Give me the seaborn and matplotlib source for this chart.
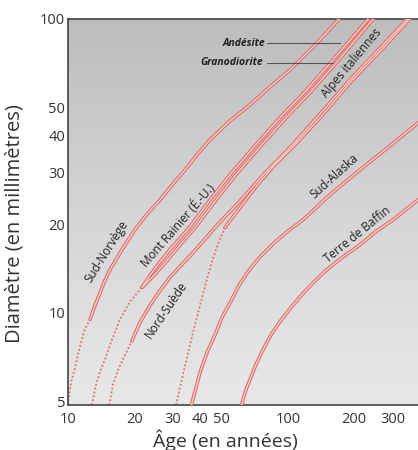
import numpy as np
import matplotlib
matplotlib.use("Agg")
import matplotlib.pyplot as plt
import matplotlib.ticker as mticker
import seaborn as sns

# courbes de croissance des lichens (echelle log-log)
sud_norvege_pts_x = [10.0, 10.2, 10.4, 10.8, 11.1, 11.46, 11.9, 12.6]
sud_norvege_pts_y = [4.85, 5.47, 5.92, 6.55, 7.2, 7.91, 8.75, 9.5]
sud_norvege_x = [12.6, 13.3, 14.0, 14.7, 15.5, 17.6, 20.2, 22.9, 26.2, 29.7,
                 34.0, 38.6, 44.2, 54.5, 67.1, 82.8, 102.0, 133.0, 169.0, 180.0]
sud_norvege_y = [9.5, 10.65, 11.7, 12.85, 14.0, 16.4, 19.2, 21.7, 24.2, 27.2,
                 30.6, 34.5, 38.8, 45.0, 51.0, 58.7, 67.1, 81.6, 99.2, 105.0]

rainier_pts_x = [12.85, 13.4, 14.0, 14.7, 15.85, 17.2, 19.1, 21.7]
rainier_pts_y = [4.85, 5.69, 6.3, 6.92, 8.1, 9.46, 10.9, 12.2]
rainier_andesite_x = [21.7, 23.6, 26.2, 29.1, 35.8, 44.2, 54.5, 70.8, 91.9,
                      119.4, 160.0, 240.0]
rainier_andesite_y = [12.2, 13.4, 14.9, 16.4, 19.6, 24.2, 29.5, 37.0, 46.1,
                      56.5, 72.5, 103.0]
rainier_granodiorite_x = [21.7, 24.6, 27.9, 31.0, 38.1, 47.1, 58.0, 75.4, 97.9,
                          127.0, 170.0, 252.0]
rainier_granodiorite_y = [12.2, 13.4, 14.9, 16.4, 19.6, 24.2, 29.5, 37.0, 46.1,
                          56.5, 72.5, 103.0]

nord_suede_pts_x = [15.4, 16.0, 16.9, 18.2, 19.5]
nord_suede_pts_y = [4.85, 5.69, 6.4, 7.19, 8.0]
nord_suede_x = [19.5, 21.2, 23.6, 26.2, 29.1, 33.0, 37.8, 46.6, 60.5, 78.6,
                105.0, 140.0, 191.0, 262.0, 358.0]
nord_suede_y = [8.0, 9.25, 10.6, 11.9, 13.2, 14.6, 16.3, 19.5, 24.0, 29.9,
                37.3, 47.5, 62.0, 79.6, 102.0]

alpes_pts_x = [31.0, 33.3, 35.9, 37.8, 39.8, 42.4, 45.1, 48.1, 51.7]
alpes_pts_y = [4.85, 6.15, 7.8, 9.1, 10.6, 12.65, 14.9, 17.2, 19.5]
alpes_x = [51.7, 60.5, 70.8, 85.5, 105.4, 141.0, 193.0, 266.0, 366.0]
alpes_y = [19.5, 22.8, 26.6, 31.4, 36.7, 46.4, 61.1, 78.5, 102.0]

sud_alaska_x = [36.4, 38.2, 39.8, 42.8, 46.6, 50.1, 54.5, 59.9, 65.8, 74.6,
                87.3, 102.0, 117.0, 155.0, 212.0, 291.0, 390.0]
sud_alaska_y = [4.85, 5.56, 6.25, 7.31, 8.4, 9.62, 10.8, 12.4, 13.8, 15.5,
                17.4, 19.2, 20.7, 25.2, 30.6, 37.0, 44.3]

baffin_x = [61.5, 64.4, 67.2, 71.5, 77.0, 83.7, 91.9, 102.0, 113.0, 130.0,
            150.0, 178.0, 212.0, 251.0, 300.0, 390.0]
baffin_y = [4.85, 5.47, 5.92, 6.65, 7.48, 8.41, 9.32, 10.3, 11.3, 12.65,
            14.0, 15.5, 17.0, 18.9, 20.7, 24.2]

x_ticks = [10, 20, 30, 40, 50, 100, 200, 300]
x_minor = [60, 70, 80, 90]
y_ticks = [5, 10, 20, 30, 40, 50, 100]
y_minor = [6, 7, 8, 9, 60, 70, 80, 90]

sns.set_style("white")
plt.rcParams["font.family"] = ["Open Sans", "DejaVu Sans"]

ROUGE = "#e27070"
CLAIR = "#f7d6cc"
GRIS_TXT = "#333333"

fig = plt.figure(figsize=(4.18, 4.5), dpi=100)
ax = fig.add_axes([68 / 418, 45 / 450, 1 - 68 / 418, 386 / 450])

# fond gris degrade (plus sombre en haut)
grad = np.linspace(0, 1, 256).reshape(-1, 1)
cmap = matplotlib.colors.LinearSegmentedColormap.from_list(
    "fond", ["#e8e8e8", "#d5d5d5", "#bdbdbd"])
ax.imshow(grad, cmap=cmap, aspect="auto", origin="lower",
          extent=[0, 1, 0, 1], transform=ax.transAxes, zorder=0)

pointilles = [
    (sud_norvege_pts_x, sud_norvege_pts_y),
    (rainier_pts_x, rainier_pts_y),
    (nord_suede_pts_x, nord_suede_pts_y),
    (alpes_pts_x, alpes_pts_y),
]
for xs, ys in pointilles:
    sns.lineplot(x=xs, y=ys, ax=ax, sort=False, estimator=None,
                 color=ROUGE, lw=1.3, linestyle=(0, (1, 1.2)), zorder=2)

traits = [
    (sud_norvege_x, sud_norvege_y),
    (rainier_andesite_x, rainier_andesite_y),
    (rainier_granodiorite_x, rainier_granodiorite_y),
    (nord_suede_x, nord_suede_y),
    (alpes_x, alpes_y),
    (sud_alaska_x, sud_alaska_y),
    (baffin_x, baffin_y),
]
for xs, ys in traits:
    sns.lineplot(x=xs, y=ys, ax=ax, sort=False, estimator=None,
                 color=ROUGE, lw=2.6, zorder=3, solid_joinstyle="round")
    sns.lineplot(x=xs, y=ys, ax=ax, sort=False, estimator=None,
                 color=CLAIR, lw=0.9, zorder=4, solid_joinstyle="round")

ax.set_xscale("log")
ax.set_yscale("log")
ax.set_xlim(10, 390)
ax.set_ylim(4.85, 100)

ax.xaxis.set_major_locator(mticker.FixedLocator(x_ticks))
ax.xaxis.set_major_formatter(mticker.FixedFormatter([str(v) for v in x_ticks]))
ax.xaxis.set_minor_locator(mticker.FixedLocator(x_minor))
ax.xaxis.set_minor_formatter(mticker.NullFormatter())
ax.yaxis.set_major_locator(mticker.FixedLocator(y_ticks))
ax.yaxis.set_major_formatter(mticker.FixedFormatter([str(v) for v in y_ticks]))
ax.yaxis.set_minor_locator(mticker.FixedLocator(y_minor))
ax.yaxis.set_minor_formatter(mticker.NullFormatter())

ax.tick_params(which="both", direction="in", color="#444444", width=1.1,
               labelsize=10.5, labelcolor=GRIS_TXT, pad=2)
ax.tick_params(axis="x", which="major", pad=5)
ax.tick_params(which="major", length=9)
ax.tick_params(which="minor", length=8)

for s in ["left", "bottom", "top"]:
    ax.spines[s].set_color("#444444")
    ax.spines[s].set_linewidth(1.2)
ax.spines["right"].set_visible(False)

ax.set_xlabel("Âge (en années)", fontsize=14, color=GRIS_TXT)
ax.set_ylabel("Diamètre (en millimètres)", fontsize=14.5, color=GRIS_TXT)
ax.xaxis.set_label_coords(0.451, -0.063)
ax.yaxis.set_label_coords(-0.125, 0.47)

# etiquettes des courbes
etiquettes = [
    ("Sud-Norvège", 14.9, 16.1, 58),
    ("Mont Rainier (É.-U.)", 31.6, 19.9, 49),
    ("Nord-Suède", 27.9, 10.2, 56),
    ("Alpes italiennes", 195.0, 71.0, 50),
    ("Sud-Alaska", 162.0, 29.2, 42),
    ("Terre de Baffin", 206.0, 18.4, 39),
]
for txt, x, y, rot in etiquettes:
    ax.text(x, y, txt, rotation=rot, rotation_mode="anchor", ha="center",
            va="center", fontsize=8.5, color="#222222", zorder=5)

ax.text(78.6, 82.8, "Andésite", ha="right", va="center", fontsize=7.5,
        fontweight="bold", fontstyle="italic", color="#222222", zorder=5)
ax.text(76.9, 70.9, "Granodiorite", ha="right", va="center", fontsize=7.5,
        fontweight="bold", fontstyle="italic", color="#222222", zorder=5)
ax.plot([80.3, 172], [82.8, 82.8], color="#555555", lw=0.8, zorder=5)
ax.plot([80.3, 160], [70.9, 70.9], color="#555555", lw=0.8, zorder=5)

fig.savefig("out.png", dpi=100)
